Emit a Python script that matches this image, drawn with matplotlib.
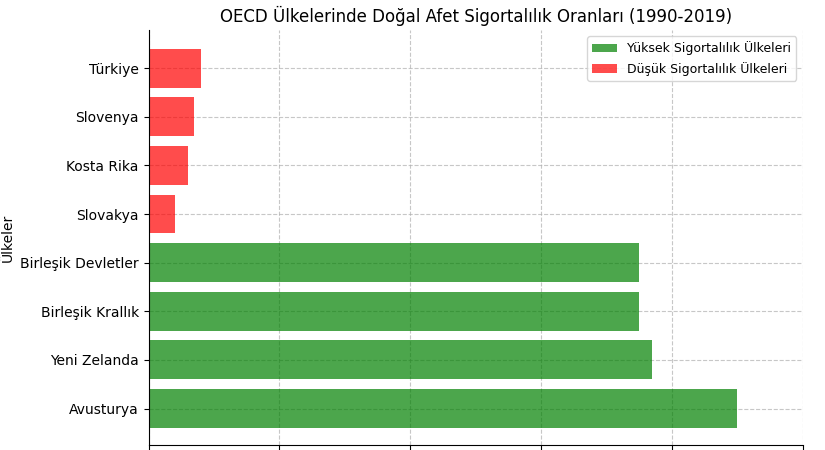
import matplotlib.pyplot as plt

# Data
yuksek = ['Avusturya', 'Yeni Zelanda', 'Birleşik Krallık', 'Birleşik Devletler']
yuksek_oran = [45, 38.5, 37.5, 37.5]
dusuk = ['Slovakya', 'Kosta Rika', 'Slovenya', 'Türkiye']
dusuk_oran = [2, 3, 3.5, 4]

fig = plt.figure(figsize=(8.25, 4.5), dpi=100)
ax = fig.add_axes([0.18, 0.011, 0.793, 0.922])

ax.barh(yuksek, yuksek_oran, color='green', alpha=0.7, height=0.8,
        label='Yüksek Sigortalılık Ülkeleri')
ax.barh(dusuk, dusuk_oran, color='red', alpha=0.7, height=0.8,
        label='Düşük Sigortalılık Ülkeleri')

ax.set_xlim(0, 50)
ax.set_ylim(-0.75, 7.78)
ax.set_ylabel('Ülkeler', fontsize=10)
ax.yaxis.set_label_coords(-0.205, 0.5)
ax.set_title('OECD Ülkelerinde Doğal Afet Sigortalılık Oranları (1990-2019)', fontsize=12)
ax.tick_params(axis='y', labelsize=10)
ax.tick_params(axis='x', labelbottom=False)
ax.grid(True, linestyle='--', alpha=0.7)
ax.set_axisbelow(True)
for s in ['top', 'right']:
    ax.spines[s].set_visible(False)
ax.legend(loc='upper right', fontsize=9)

fig.savefig('out.png')
